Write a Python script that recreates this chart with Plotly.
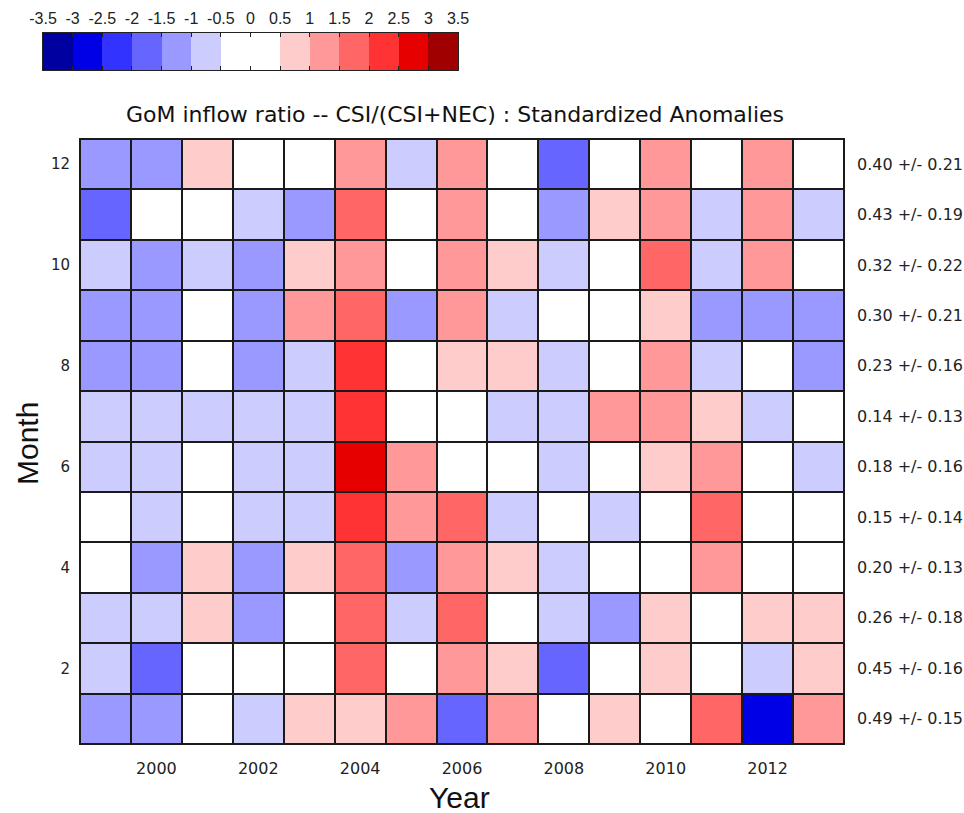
import plotly.graph_objects as go

# Standardized anomalies of the GoM inflow ratio CSI/(CSI+NEC), by month and year
years = list(range(1999, 2014))
months = list(range(1, 13))

# one row per month (Jan..Dec), one value per year 1999..2013
anom = [
    [-1.2, -1.3, 0.1, -0.8, 0.7, 0.8, 1.2, -1.8, 1.3, 0.2, 0.6, -0.1, 1.8, -2.8, 1.3],    # 1
    [-0.7, -1.8, 0.2, 0.1, -0.2, 1.7, 0.1, 1.3, 0.7, -1.7, 0.2, 0.6, 0.3, -0.6, 0.7],     # 2
    [-0.6, -0.7, 0.7, -1.3, 0.2, 1.7, -0.7, 1.8, 0.1, -0.6, -1.2, 0.6, 0.0, 0.7, 0.6],    # 3
    [0.2, -1.3, 0.8, -1.2, 0.7, 1.8, -1.3, 1.2, 0.7, -0.7, 0.1, 0.3, 1.3, -0.1, 0.2],     # 4
    [0.1, -0.7, -0.2, -0.8, -0.7, 2.3, 1.3, 1.8, -0.7, 0.0, -0.8, 0.1, 1.7, 0.3, -0.1],   # 5
    [-0.6, -0.7, 0.2, -0.7, -0.7, 2.8, 1.2, 0.1, 0.3, -0.6, 0.2, 0.7, 1.3, -0.2, -0.7],   # 6
    [-0.7, -0.8, -0.6, -0.7, -0.8, 2.3, 0.2, 0.1, -0.7, -0.6, 1.2, 1.3, 0.8, -0.6, 0.2],  # 7
    [-1.2, -1.3, 0.3, -1.3, -0.7, 2.4, 0.2, 0.6, 0.8, -0.7, 0.1, 1.2, -0.6, 0.0, -1.3],   # 8
    [-1.3, -1.2, 0.1, -1.2, 1.3, 1.8, -1.3, 1.2, -0.7, 0.2, -0.1, 0.7, -1.3, -1.2, -1.2], # 9
    [-0.7, -1.3, -0.6, -1.3, 0.7, 1.3, 0.2, 1.2, 0.8, -0.6, 0.1, 1.8, -0.7, 1.3, 0.0],    # 10
    [-1.7, 0.1, 0.2, -0.7, -1.2, 1.8, 0.0, 1.3, 0.3, -1.2, 0.7, 1.3, -0.6, 1.2, -0.7],    # 11
    [-1.2, -1.3, 0.8, 0.2, 0.1, 1.2, -0.7, 1.3, 0.1, -1.8, 0.3, 1.3, 0.2, 1.2, -0.1],     # 12
]

# monthly climatological ratio, mean +/- std
clim_labels = [
    "0.49 +/- 0.15", "0.45 +/- 0.16", "0.26 +/- 0.18", "0.20 +/- 0.13",
    "0.15 +/- 0.14", "0.18 +/- 0.16", "0.14 +/- 0.13", "0.23 +/- 0.16",
    "0.30 +/- 0.21", "0.32 +/- 0.22", "0.43 +/- 0.19", "0.40 +/- 0.21",
]

year_ticks = [2000, 2002, 2004, 2006, 2008, 2010, 2012]
month_ticks = [2, 4, 6, 8, 10, 12]

# discrete colour levels, one per 0.5 interval from -3.5 to 3.5
level_edges = [-3.5, -3, -2.5, -2, -1.5, -1, -0.5, 0, 0.5, 1, 1.5, 2, 2.5, 3, 3.5]
level_colors = ["#0000a0", "#0000e6", "#3333ff", "#6666ff", "#9999ff", "#ccccff",
                "#ffffff", "#ffffff", "#ffcccc", "#ff9999", "#ff6666", "#ff3333",
                "#e60000", "#a00000"]

zmin, zmax = level_edges[0], level_edges[-1]
colorscale = []
for i, c in enumerate(level_colors):
    lo = (level_edges[i] - zmin) / (zmax - zmin)
    hi = (level_edges[i + 1] - zmin) / (zmax - zmin)
    colorscale.append([lo, c])
    colorscale.append([hi, c])

level_mids = [(level_edges[i] + level_edges[i + 1]) / 2 for i in range(len(level_colors))]

FONT = "DejaVu Sans, Liberation Sans, Arial, sans-serif"
TXT = "#222222"

fig = go.Figure()

fig.add_trace(go.Heatmap(
    x=years, y=months, z=anom,
    colorscale=colorscale, zmin=zmin, zmax=zmax,
    xgap=2, ygap=2, showscale=False,
    xaxis="x", yaxis="y", hoverongaps=False,
))

# colour key drawn as a one-row heatmap on its own axes
fig.add_trace(go.Heatmap(
    x=level_mids, y=[0], z=[level_mids],
    colorscale=colorscale, zmin=zmin, zmax=zmax,
    showscale=False, xaxis="x2", yaxis="y2",
))

W, H = 964, 813
fig.update_layout(
    template="none",
    width=W, height=H,
    margin=dict(l=0, r=0, t=0, b=0, pad=0, autoexpand=False),
    paper_bgcolor="white",
    plot_bgcolor="#1a1a1a",
    font=dict(family=FONT, color=TXT),
    xaxis=dict(
        domain=[80 / W, 844 / W], range=[1998.5, 2013.5], automargin=False,
        tickvals=year_ticks, ticks="", showgrid=False, zeroline=False,
        showline=True, linecolor="#1a1a1a", linewidth=1, mirror=True,
        tickfont=dict(size=16, color=TXT), ticklabelstandoff=10,
    ),
    yaxis=dict(
        domain=[1 - 744 / H, 1 - 139 / H], range=[0.5, 12.5], automargin=False,
        tickvals=month_ticks, ticks="", showgrid=False, zeroline=False,
        showline=True, linecolor="#1a1a1a", linewidth=1, mirror=True,
        tickfont=dict(size=15, color=TXT), ticklabelstandoff=6,
    ),
    xaxis2=dict(
        domain=[43 / W, 458 / W], range=[zmin, zmax], anchor="y2", side="top",
        automargin=False,
        tickvals=level_edges, ticktext=["%g" % v for v in level_edges],
        ticks="inside", ticklen=4, tickcolor="#222222",
        showline=True, linecolor="#222222", linewidth=1, mirror="ticks",
        showgrid=False, zeroline=False, ticklabelstandoff=2,
        tickfont=dict(size=16, color=TXT, family="Liberation Sans Narrow, Liberation Sans, Arial"),
    ),
    yaxis2=dict(
        domain=[1 - 70 / H, 1 - 33 / H], range=[-0.5, 0.5], anchor="x2",
        automargin=False,
        showticklabels=False, ticks="", showgrid=False, zeroline=False,
        showline=True, linecolor="#222222", linewidth=1, mirror=True,
    ),
    showlegend=False,
)

annotations = [
    dict(text="GoM inflow ratio -- CSI/(CSI+NEC) : Standardized Anomalies",
         x=455 / W, y=1 - 115 / H, xref="paper", yref="paper",
         xanchor="center", yanchor="middle", showarrow=False,
         font=dict(size=22, color="#111111")),
    dict(text="Year", x=459 / W, y=1 - 797 / H, xref="paper", yref="paper",
         xanchor="center", yanchor="middle", showarrow=False,
         font=dict(size=30, color="#111111", family="Liberation Sans, Arial")),
    dict(text="Month", x=27 / W, y=1 - 444 / H, xref="paper", yref="paper",
         xanchor="center", yanchor="middle", showarrow=False, textangle=-90,
         font=dict(size=30, color="#111111", family="Liberation Sans, Arial")),
]
for m, lab in zip(months, clim_labels):
    annotations.append(dict(
        text=lab, x=855 / W, y=m, xref="paper", yref="y",
        xanchor="left", yanchor="middle", showarrow=False,
        font=dict(size=16, color=TXT),
    ))
fig.update_layout(annotations=annotations)

fig.write_html("out.html")
